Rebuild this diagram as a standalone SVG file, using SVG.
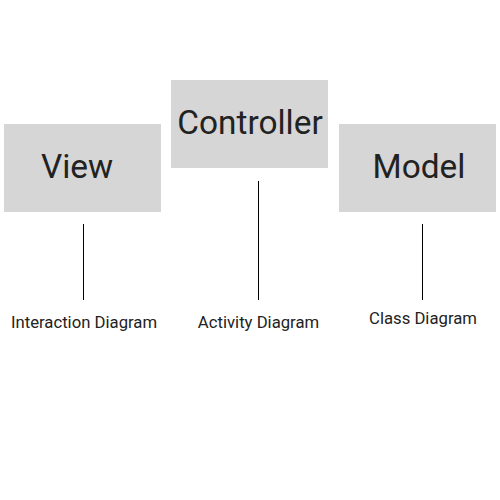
<svg xmlns="http://www.w3.org/2000/svg" width="500" height="500" viewBox="0 0 500 500">
<style>
.box{fill:#d6d6d6}
.title{font-family:Roboto,"Liberation Sans",sans-serif;font-size:33.4px;fill:#222;text-anchor:middle}
.lbl{font-family:Roboto,"Liberation Sans",sans-serif;font-size:16.7px;fill:#222;text-anchor:middle}
.conn line{stroke:#000;stroke-width:1}
</style>
<rect width="500" height="500" fill="#fff"/>
<g id="view">
<rect class="box" x="4" y="124" width="157" height="88"/>
<text class="title" x="77" y="178">View</text>
</g>
<g id="controller">
<rect class="box" x="171" y="80" width="157" height="88"/>
<text class="title" x="250" y="133.5">Controller</text>
</g>
<g id="model">
<rect class="box" x="339" y="124" width="157" height="88"/>
<text class="title" x="419" y="178">Model</text>
</g>
<g id="connectors" class="conn">
<line x1="83.5" y1="224" x2="83.5" y2="300"/>
<line x1="258.5" y1="181" x2="258.5" y2="300"/>
<line x1="422.5" y1="224" x2="422.5" y2="300"/>
</g>
<g id="interaction-label"><text class="lbl" x="84" y="327.5">Interaction Diagram</text></g>
<g id="activity-label"><text class="lbl" x="258.5" y="327.5">Activity Diagram</text></g>
<g id="class-label"><text class="lbl" x="423" y="324">Class Diagram</text></g>
</svg>
